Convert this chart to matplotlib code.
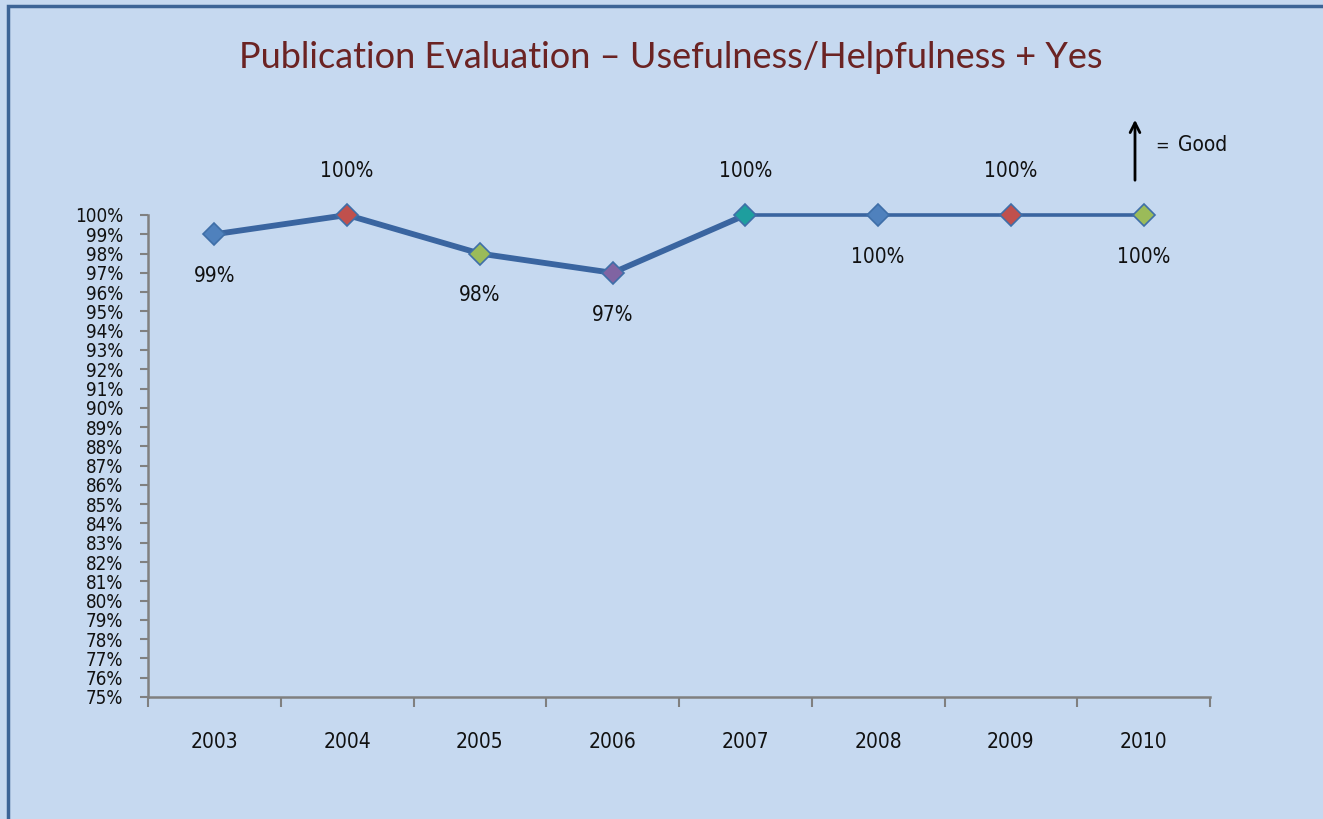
import numpy as np
import matplotlib.pyplot as plt
from matplotlib.patches import Rectangle

years = ["2003", "2004", "2005", "2006", "2007", "2008", "2009", "2010"]
values = [0.99, 1.00, 0.98, 0.97, 1.00, 1.00, 1.00, 1.00]
labels = ["99%", "100%", "98%", "97%", "100%", "100%", "100%", "100%"]
label_above = [False, True, False, False, True, False, True, False]
marker_colors = ["#4F81BD", "#C0504D", "#9BBB59", "#8064A2",
                 "#1E9E9E", "#4F81BD", "#C0504D", "#9BBB59"]
y_ticks = [v / 100 for v in range(75, 101)]

BG = "#C6D9F0"
LINE = "#3A65A0"
txt = dict(family="DejaVu Sans", fontstretch="condensed", color="#111111")

fig = plt.figure(figsize=(13.23, 8.19), dpi=100, facecolor=BG)
fig.patches.append(Rectangle((8 / 1323, -0.1), 1.2, 1.1 - 6 / 819,
                             transform=fig.transFigure, fill=False,
                             edgecolor="#3C6496", linewidth=2.5))

ax = fig.add_axes([148 / 1323, 1 - 697 / 819, (1210 - 148) / 1323, (697 - 215) / 819])
ax.set_facecolor(BG)

x = np.arange(len(years))
# thick segment up to 2007, thinner after
ax.plot(x[:5], values[:5], color=LINE, lw=4.2, solid_capstyle="round", clip_on=False, zorder=2)
ax.plot(x[4:], values[4:], color=LINE, lw=2.6, clip_on=False, zorder=2)
for xi, v, c in zip(x, values, marker_colors):
    ax.plot(xi, v, marker="D", ms=11, mfc=c, mec="#3F6FA8", mew=1.2,
            clip_on=False, zorder=3)

for xi, v, lab, up in zip(x, values, labels, label_above):
    ax.annotate(lab, (xi, v), xytext=(0, 32 if up else -30), textcoords="offset points",
                ha="center", va="center", fontsize=15, **txt)

ax.set_xlim(-0.5, len(years) - 0.5)
ax.set_ylim(0.75, 1.00)
ax.set_yticks(y_ticks)
ax.set_yticklabels([f"{int(round(t * 100))}%" for t in y_ticks], fontsize=13.5, **txt)
ax.set_xticks(x)
ax.set_xticklabels(years, fontsize=15, **txt)
ax.set_xticks(np.arange(-0.5, len(years)), minor=True)

for s in ["top", "right"]:
    ax.spines[s].set_visible(False)
for s in ["left", "bottom"]:
    ax.spines[s].set_color("#808080")
    ax.spines[s].set_linewidth(1.8)

ax.tick_params(axis="y", direction="out", length=6, width=1.5, color="#808080", pad=12)
ax.tick_params(axis="x", which="major", length=0, pad=25)
ax.tick_params(axis="x", which="minor", direction="out", length=7, width=1.5, color="#808080")

fig.text(0.507, 1 - 57 / 819, "Publication Evaluation \u2013 Usefulness/Helpfulness + Yes",
         ha="center", va="center", fontsize=26, color="#6B2323", family="Lato")

ax.annotate("", xy=(1135 / 1323, 1 - 117 / 819), xytext=(1135 / 1323, 1 - 183 / 819),
            xycoords="figure fraction", textcoords="figure fraction",
            arrowprops=dict(arrowstyle="->,head_length=0.7,head_width=0.35",
                            color="black", lw=2))
fig.text(1155 / 1323, 1 - 146 / 819, "=", fontsize=13, ha="left", va="center", **txt)
fig.text(1178 / 1323, 1 - 145 / 819, "Good", fontsize=15, ha="left", va="center", **txt)

fig.savefig("out.png", dpi=100, facecolor=BG)
